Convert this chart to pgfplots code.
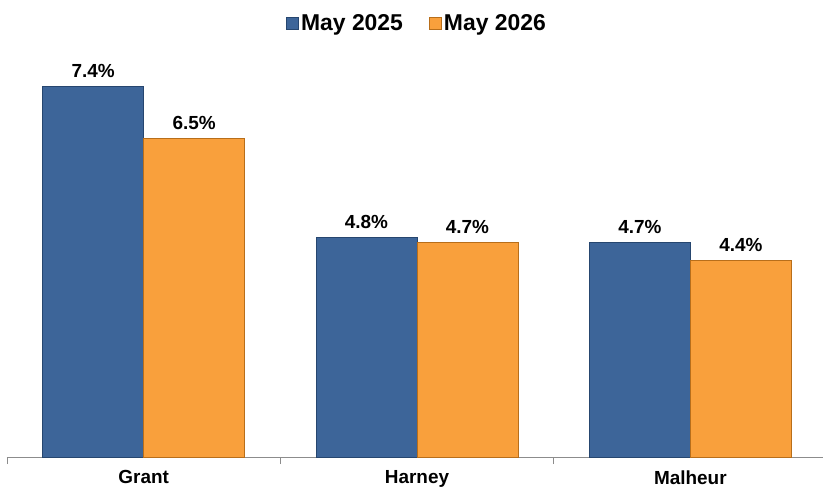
\documentclass[border=0pt]{standalone}
\usepackage{fontspec}
\setmainfont{Liberation Sans}
\usepackage{pgfplots}
\pgfplotsset{compat=1.18}
\definecolor{bblue}{HTML}{3D6599}
\definecolor{bblueD}{HTML}{26466F}
\definecolor{borange}{HTML}{F9A03C}
\definecolor{borangeD}{HTML}{B86E1A}
\definecolor{axgray}{HTML}{8C8C8C}
\begin{document}
\begin{tikzpicture}
\begin{axis}[
  scale only axis,
  width=820bp, height=405bp,
  xmin=-0.5, xmax=2.5, ymin=1, ymax=8,
  axis x line*=bottom, axis y line=none,
  x axis line style={draw=axgray, line width=0.8pt, -},
  xtick={0,1,2},
  xticklabels={Grant,Harney,Malheur},
  major tick length=0pt,
  minor xtick={-0.5,0.5,1.5,2.5},
  minor tick length=7bp,
  tick align=outside,
  minor tick style={draw=axgray, line width=0.8pt},
  xticklabel style={font=\fontsize{19}{21}\selectfont\bfseries, yshift=-10bp},
  ybar=0pt, bar width=101bp,
  /pgf/number format/assume math mode=true,
  nodes near coords={\pgfmathprintnumber[fixed,precision=1,fixed zerofill,assume math mode=true]{\pgfplotspointmeta}\%},
  every node near coord/.append style={font=\fontsize{19}{21}\selectfont\bfseries, text=black, yshift=5bp},
  legend style={at={(0.5,1)}, anchor=south, yshift=16bp, draw=none, fill=none,
    font=\fontsize{23}{25}\selectfont\bfseries, legend columns=2,
    /tikz/every even column/.append style={column sep=24bp}},
  legend image code/.code={\draw[#1] (-4bp,-6bp) rectangle (8bp,6bp);},
  clip=false,
]
\addplot[fill=bblue, draw=bblueD, line width=1pt] coordinates {(0,7.4) (1,4.8) (2,4.7)};
\addplot[fill=borange, draw=borangeD, line width=1pt] coordinates {(0,6.5) (1,4.7) (2,4.4)};
\legend{May 2025, May 2026}
\end{axis}
\pgfresetboundingbox
\path[use as bounding box] (-7bp,-36bp) rectangle (816bp,457bp);
\end{tikzpicture}
\end{document}
